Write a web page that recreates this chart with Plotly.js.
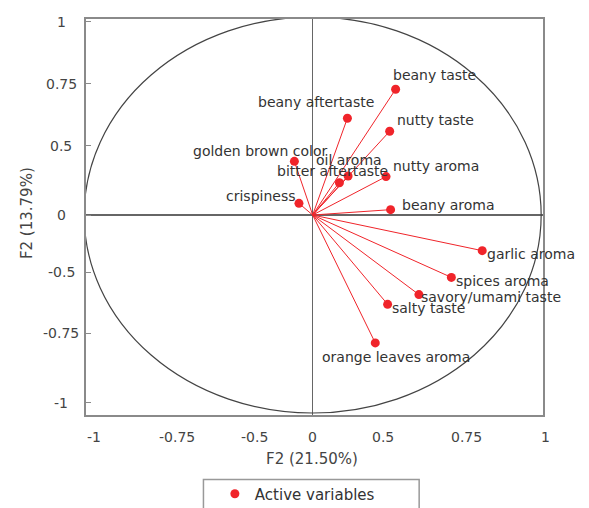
<!DOCTYPE html>
<html>
<head>
<meta charset="utf-8">
<script src="https://cdn.plot.ly/plotly-3.0.1.min.js"></script>
<style>
html,body{margin:0;padding:0;background:#fff;}
#chart{width:589px;height:508px;}
</style>
</head>
<body>
<div id="chart"></div>
<script>
// ---- data ----
const variables = ['beany taste','beany aftertaste','nutty taste','golden brown color','oil aroma',
  'bitter aftertaste','nutty aroma','crispiness','beany aroma','garlic aroma','spices aroma',
  'savory/umami taste','salty taste','orange leaves aroma'];
const f1 = [0.363, 0.152, 0.337, -0.080, 0.117, 0.155, 0.321, -0.060, 0.341, 0.742, 0.607, 0.465, 0.328, 0.274];
const f2 = [0.635, 0.489, 0.423, 0.271, 0.163, 0.197, 0.194, 0.059, 0.027, -0.180, -0.315, -0.402, -0.451, -0.646];
const xTickLabels = ['-1','-0.75','-0.5','0','0.5','0.75','1'];
const yTickLabels = ['1','0.75','0.5','0','-0.5','-0.75','-1'];
const seriesName = 'Active variables';
const xTitle = 'F2 (21.50%)';
const yTitle = 'F2 (13.79%)';

// ---- layout constants ----
const xr = [-0.992, 1.008], yr = [-1.01, 0.99];
const xTickPos = [-0.955, -0.592, -0.255, 0, 0.309, 0.674, 1.017];
const yTickPos = [0.976, 0.662, 0.349, 0.0, -0.288, -0.596, -0.948];
const labelDx = [-5, -91, 5, -103, -25, -73, 5, -75, 9, 3, 3, 0, 2, -55];
const labelDy = [-14, -16, -11, -10, -23, -5, -11, -7, -5, 3, 4, 2, 4, 14];
const FONT = 'DejaVu Sans';
const RED = '#f0242a';

const lx = [], ly = [];
for (let i = 0; i < variables.length; i++) { lx.push(0, f1[i], null); ly.push(0, f2[i], null); }

const traces = [
  {type:'scatter', mode:'lines', x:lx, y:ly, line:{color:RED, width:1}, showlegend:false, hoverinfo:'skip'},
  {type:'scatter', mode:'markers', name:seriesName, x:f1, y:f2, text:variables,
   marker:{color:RED, size:9}, showlegend:true}
];

const ann = [];
variables.forEach((v,i)=>ann.push({x:f1[i], y:f2[i], xref:'x', yref:'y', text:v, showarrow:false,
  xanchor:'left', yanchor:'middle', xshift:labelDx[i], yshift:-labelDy[i],
  font:{family:FONT, size:14, color:'#333'}}));
xTickLabels.forEach((t,i)=>ann.push({x:(xTickPos[i]-xr[0])/(xr[1]-xr[0]), y:-0.0556, xref:'paper', yref:'paper',
  text:t, showarrow:false, xanchor:'center', yanchor:'middle', font:{family:FONT, size:14, color:'#444'}}));
yTickLabels.forEach((t,i)=>ann.push({x:-0.0547, y:yTickPos[i], xref:'paper', yref:'y',
  text:t, showarrow:false, xanchor:'center', yanchor:'middle', font:{family:FONT, size:14, color:'#444'}}));
ann.push({x:0.4955, y:-0.111, xref:'paper', yref:'paper', text:xTitle, showarrow:false,
  xanchor:'center', yanchor:'middle', font:{family:FONT, size:15, color:'#444'}});
ann.push({x:-0.129, y:0.51, xref:'paper', yref:'paper', text:yTitle, showarrow:false, textangle:-90,
  xanchor:'center', yanchor:'middle', font:{family:FONT, size:15, color:'#444'}});

const layout = {
  width:589, height:508,
  margin:{l:86, r:46, t:19, b:93, pad:0, autoexpand:false},
  paper_bgcolor:'#fff', plot_bgcolor:'#fff',
  font:{family:FONT, color:'#333'},
  xaxis:{range:xr, showgrid:false, zeroline:true, zerolinecolor:'#666', zerolinewidth:1.2,
    showline:true, mirror:true, linecolor:'#8a8a8a', linewidth:2, ticks:'', showticklabels:false, fixedrange:true},
  yaxis:{range:yr, showgrid:false, zeroline:true, zerolinecolor:'#666', zerolinewidth:1.2,
    showline:true, mirror:true, linecolor:'#8a8a8a', linewidth:2, ticks:'inside', ticklen:5, tickcolor:'#8a8a8a',
    tickmode:'array', tickvals:yTickPos, showticklabels:false, fixedrange:true},
  shapes:[
    {type:'circle', xref:'x', yref:'y', x0:-1, x1:1, y0:-1, y1:1, line:{color:'#444', width:1.2}, layer:'above'},
    {type:'rect', xref:'paper', yref:'paper', x0:0.257, x1:0.729, y0:-0.4, y1:-0.163, line:{color:'#999', width:1.5}}
  ],
  showlegend:true,
  legend:{orientation:'h', x:0.282, y:-0.1995, xanchor:'left', yanchor:'middle',
    bgcolor:'rgba(0,0,0,0)', borderwidth:0, font:{family:FONT, size:15, color:'#333'}},
  annotations:ann
};

Plotly.newPlot('chart', traces, layout, {displayModeBar:false, staticPlot:true});
</script>
</body>
</html>
